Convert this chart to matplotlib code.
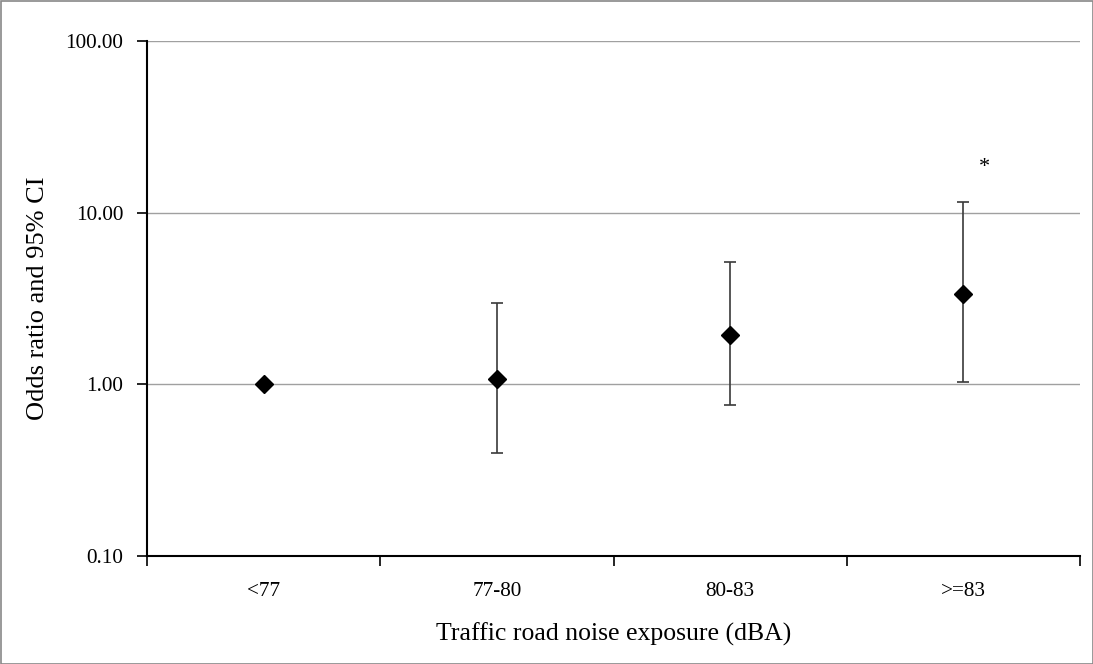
import matplotlib
matplotlib.use("Agg")
import matplotlib.pyplot as plt
from matplotlib.patches import Rectangle

categories = ["<77", "77-80", "80-83", ">=83"]
odds_ratio = [1.00, 1.08, 1.95, 3.37]
ci_lower = [1.00, 0.396, 0.755, 1.03]
ci_upper = [1.00, 2.96, 5.13, 11.5]
y_ticks = [0.1, 1, 10, 100]
y_tick_labels = ["0.10", "1.00", "10.00", "100.00"]

plt.rcParams['font.family'] = ['Liberation Serif', 'DejaVu Serif']

fig = plt.figure(figsize=(10.93, 6.64), dpi=100)
ax = fig.add_axes([147/1093, 1-556/664, (1080-147)/1093, (556-41)/664])

x = list(range(len(categories)))
yerr_low = [o - l for o, l in zip(odds_ratio, ci_lower)]
yerr_high = [u - o for o, u in zip(odds_ratio, ci_upper)]
ax.errorbar(x, odds_ratio, yerr=[yerr_low, yerr_high], fmt='D', color='black',
            ecolor='#3a3a3a', elinewidth=1.2, capsize=4.5, capthick=1.2,
            markersize=9.5, zorder=3)

ax.set_yscale('log')
ax.set_ylim(0.1, 100)
ax.set_xlim(-0.5, len(categories) - 0.5)
ax.set_yticks(y_ticks)
ax.set_yticklabels(y_tick_labels)
ax.yaxis.set_minor_locator(matplotlib.ticker.NullLocator())
ax.set_xticks([i - 0.5 for i in range(len(categories) + 1)])
ax.set_xticklabels([])
ax.set_xticks(x, minor=True)
ax.set_xticklabels(categories, minor=True)
ax.tick_params(axis='x', which='minor', length=0, pad=19, labelsize=15.3)
ax.tick_params(axis='x', which='major', direction='out', length=7, width=1.2)
ax.tick_params(axis='y', which='major', direction='out', length=7, width=1.2, labelsize=15.3, pad=10)

ax.grid(axis='y', which='major', color='#a0a0a0', linewidth=1)
ax.set_axisbelow(True)
for s in ['top', 'right']:
    ax.spines[s].set_visible(False)
for s in ['left', 'bottom']:
    ax.spines[s].set_linewidth(1.5)
    ax.spines[s].set_zorder(4)

ax.set_xlabel("Traffic road noise exposure (dBA)", fontsize=18.5, labelpad=15)
ax.set_ylabel("Odds ratio and 95% CI", fontsize=19, labelpad=12)

ax.text(3.09, 18.3, "*", ha='center', va='center', fontsize=16)

fig.patches.append(Rectangle((0.5/1093, 0.5/664), 1-1/1093, 1-1/664, transform=fig.transFigure,
                             fill=False, edgecolor='#888888', linewidth=1.2))

fig.savefig("out.png", dpi=100)
